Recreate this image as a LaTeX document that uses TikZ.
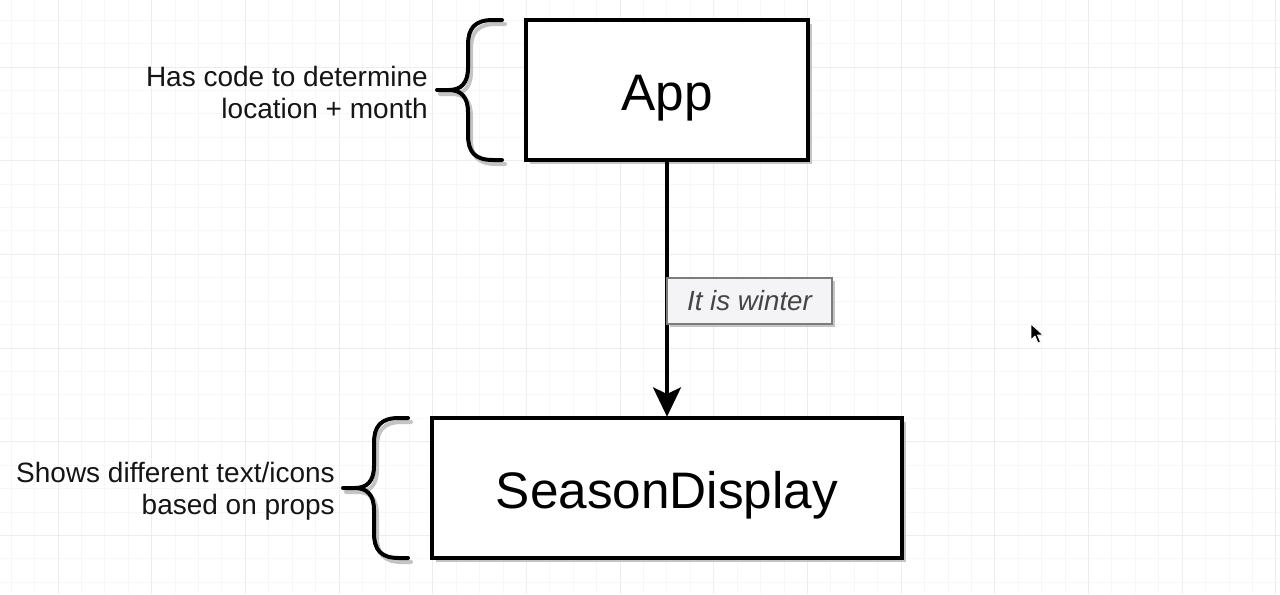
\documentclass[tikz,border=0pt]{standalone}
\usepackage{fontspec}
\setmainfont{Liberation Sans}
\usetikzlibrary{arrows.meta,shadows}
\definecolor{gridminor}{HTML}{F7F7F7}
\definecolor{gridmajor}{HTML}{EDEDED}
\definecolor{shadowgray}{HTML}{C4C4C4}
\definecolor{lblborder}{HTML}{7C7C7C}
\definecolor{lblfill}{HTML}{F4F4F6}
\definecolor{lbltext}{HTML}{454545}
\definecolor{inktext}{HTML}{151515}
\begin{document}
\begin{tikzpicture}[x=0.75pt,y=-0.75pt,
  compbox/.style={draw=black, line width=3pt, fill=white, minimum width=211.5pt, minimum height=105pt,
    inner sep=0pt, text height=30pt, text depth=0pt, font=\fontsize{38.5}{44}\selectfont,
    drop shadow={shadow xshift=3pt, shadow yshift=-3pt, fill=shadowgray, opacity=1}},
  notetext/.style={align=right, inner sep=0pt, text=inktext, font=\fontsize{21}{24}\selectfont},
  edgelabel/.style={draw=lblborder, line width=2.2pt, fill=lblfill, minimum width=123.75pt, minimum height=34.5pt,
    inner sep=0pt, text=lbltext, font=\itshape\fontsize{20.8}{24}\selectfont,
    drop shadow={shadow xshift=2.5pt, shadow yshift=-2.5pt, fill=shadowgray, opacity=1}},
  link/.style={draw=black, line width=2.3pt, -{Stealth[length=22pt, width=21pt, inset=5pt]}},
  bracestroke/.style={line width=3pt, line cap=round},
  curly/.pic={
    \draw[bracestroke, draw=shadowgray, shift={(3,4)}]
      (65,-70) -- (56,-70) .. controls (38,-70) and (31,-62) .. (31,-45) -- (31,-22)
      .. controls (31,-7) and (24,0) .. (12,0)
      .. controls (24,0) and (31,7) .. (31,22) -- (31,45)
      .. controls (31,62) and (38,70) .. (56,70) -- (65,70)
      (0,0) -- (12,0);
    \draw[bracestroke, draw=black]
      (65,-70) -- (56,-70) .. controls (38,-70) and (31,-62) .. (31,-45) -- (31,-22)
      .. controls (31,-7) and (24,0) .. (12,0)
      .. controls (24,0) and (31,7) .. (31,22) -- (31,45)
      .. controls (31,62) and (38,70) .. (56,70) -- (65,70)
      (0,0) -- (12,0);
  }
]
\useasboundingbox (0,0) rectangle (1280,594);
\fill[white] (0,0) rectangle (1280,594);
% grid
\foreach \k in {0,...,54} {
  \pgfmathsetmacro{\gx}{11.2+23.42*\k}
  \draw[gridminor, line width=0.75pt] (\gx,0) -- (\gx,594);
}
\foreach \k in {-1,...,24} {
  \pgfmathsetmacro{\gy}{20.2+23.42*\k}
  \draw[gridminor, line width=0.75pt] (0,\gy) -- (1280,\gy);
}
\foreach \k in {0,...,13} {
  \pgfmathsetmacro{\gx}{58+93.68*\k}
  \draw[gridmajor, line width=0.75pt] (\gx,0) -- (\gx,594);
}
\foreach \k in {-1,...,6} {
  \pgfmathsetmacro{\gy}{67+93.68*\k}
  \draw[gridmajor, line width=0.75pt] (0,\gy) -- (1280,\gy);
}
% boxes
\node[compbox] (app) at (667,90) {App};
\node[compbox, minimum width=352.5pt] (sd) at (667,488) {SeasonDisplay};
% connector
\draw[link] (app.south) -- ([yshift=-0.5pt]sd.north);
\node[edgelabel] (lbl) at (749.5,301) {It is winter};
% braces
\pic at (437,90) {curly};
\pic at (343,488) {curly};
% notes
\node[notetext, anchor=east] (note1) at (428,92) {Has code to determine\\location + month};
\node[notetext, anchor=east] (note2) at (335,491) {Shows different text/icons\\based on props};
% cursor
\filldraw[fill=black, draw=white, line width=0.6pt, line join=round]
  (1031,324) -- (1031,340) -- (1035,336) -- (1038,343) -- (1040.5,342) -- (1037.5,335) -- (1043,335) -- cycle;
\end{tikzpicture}
\end{document}
